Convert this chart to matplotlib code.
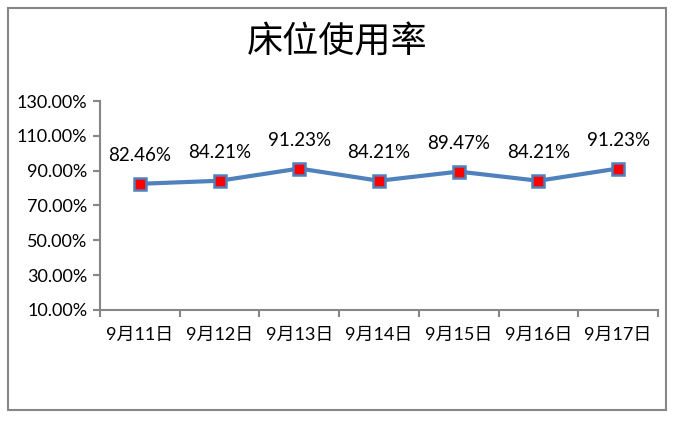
import matplotlib
matplotlib.use("Agg")
import matplotlib.pyplot as plt
from matplotlib.patches import Rectangle

fam = ['Lato', 'Noto Sans CJK SC', 'DejaVu Sans']
plt.rcParams['font.family'] = fam

title = "床位使用率"
categories = ["9月11日", "9月12日", "9月13日", "9月14日", "9月15日", "9月16日", "9月17日"]
values = [82.46, 84.21, 91.23, 84.21, 89.47, 84.21, 91.23]
yticks = [10, 30, 50, 70, 90, 110, 130]

W, H = 679, 423
fig = plt.figure(figsize=(W / 100, H / 100), dpi=100)
fig.patches.append(Rectangle((8 / W, 1 - 410 / H), 658 / W, 402 / H, transform=fig.transFigure,
                             fill=False, edgecolor='#868686', linewidth=1.5))

ax = fig.add_axes([100 / W, 1 - 310 / H, 558 / W, 209 / H])
x = list(range(len(categories)))
ax.plot(x, values, color='#4F81BD', linewidth=3, marker='s', markersize=8,
        markerfacecolor='#FF0000', markeredgecolor='#4F81BD', markeredgewidth=1.8, zorder=3)
for xi, v in zip(x, values):
    ax.annotate(f"{v:.2f}%", (xi, v), xytext=(0, 14), textcoords='offset points',
                ha='center', va='bottom', fontsize=13.5)

ax.set_xlim(-0.5, len(categories) - 0.5)
ax.set_ylim(10, 130)
ax.set_yticks(yticks)
ax.set_yticklabels([f"{t:.2f}%" for t in yticks], fontsize=13)
ax.set_xticks(x)
ax.set_xticklabels(categories, fontsize=13)
ax.set_xticks([i - 0.5 for i in range(len(categories) + 1)], minor=True)
ax.tick_params(axis='x', which='major', length=0, pad=12)
ax.tick_params(axis='x', which='minor', length=5, color='#868686', width=1.5)
ax.tick_params(axis='y', length=5, color='#868686', width=1.5, pad=4)
for s in ['top', 'right']:
    ax.spines[s].set_visible(False)
for s in ['left', 'bottom']:
    ax.spines[s].set_color('#868686')
    ax.spines[s].set_linewidth(1.5)

fig.text(337 / W, 1 - 43 / H, title, ha='center', va='center', fontsize=26,
         family=['Noto Sans CJK SC', 'DejaVu Sans'])

fig.savefig("out.png", dpi=100)
